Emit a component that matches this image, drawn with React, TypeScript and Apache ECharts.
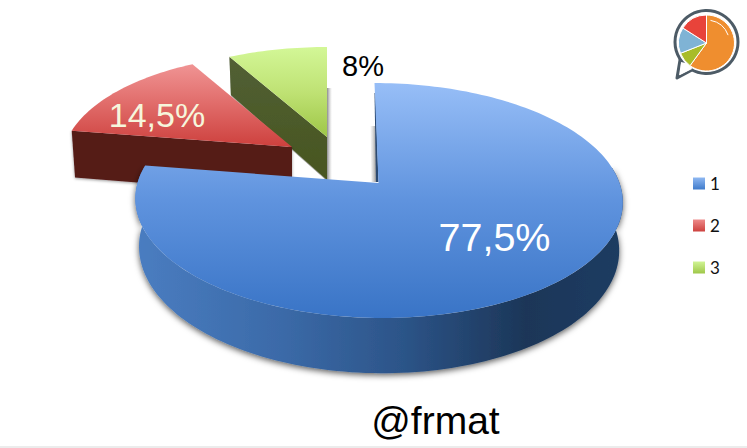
import React, { useEffect, useRef } from "react";
import * as echarts from "echarts";

const categories = ["1", "2", "3"];
const shares = [77.5, 14.5, 8];
const sliceLabels = ["77,5%", "14,5%", "8%"];
const footer = "@frmat";
const logoShares = [60, 9, 15, 16];

const K = -0.149;
const geometry = [
  { ax: 378.5, ay: 183, sx: 1, sy: 1, shear: 4, depth: 47 },
  { ax: 292, ay: 147, sx: 0.945, sy: 0.93, shear: 3, depth: 48 },
  { ax: 327, ay: 137, sx: 0.95, sy: 0.9, shear: 0, depth: 43 },
];

type G = (typeof geometry)[number];
const rad = (deg: number) => (deg * Math.PI) / 180;
function rim(g: G, deg: number, down = false): number[] {
  const u = Math.sin(rad(deg));
  const v = -Math.cos(rad(deg));
  const den = 1 + K * v;
  const narrow = down ? 0.985 : 1;
  const x = g.ax + g.sx * ((241 * u * narrow) / den + g.shear * v);
  const y = g.ay + g.sy * ((87.6 * v + 183) / den - 183);
  return [x, down ? y + g.depth / den : y];
}
function arc(g: G, from: number, to: number, down = false): number[][] {
  const pts: number[][] = [];
  const n = Math.max(2, Math.ceil(Math.abs(to - from) / 1.5));
  for (let i = 0; i <= n; i++) pts.push(rim(g, from + ((to - from) * i) / n, down));
  return pts;
}
const linear = (stops: [number, string][], horizontal = false) => ({
  type: "linear",
  x: 0,
  y: 0,
  x2: horizontal ? 1 : 0,
  y2: horizontal ? 0 : 1,
  colorStops: stops.map(([offset, color]) => ({ offset, color })),
});

const faceFills = [
  linear([[0, "#97bef7"], [0.5, "#5f93de"], [1, "#3974c6"]]),
  linear([[0, "#f09494"], [0.5, "#e06a68"], [1, "#cd403d"]]),
  linear([[0, "#d3f797"], [0.5, "#bfe274"], [1, "#9ec647"]]),
];
const swatchFills = [
  linear([[0, "#8fb8f2"], [1, "#3f7bcb"]]),
  linear([[0, "#ee8b8b"], [1, "#cd413e"]]),
  linear([[0, "#d0f495"], [1, "#9fc749"]]),
];
const blueWall = linear(
  [[0, "#4a7dc1"], [0.3, "#3b6aa8"], [0.55, "#2c5488"], [0.8, "#1c3658"], [1, "#1f3c62"]],
  true
);
const cutFills = ["#2a4e80", "#551a18", linear([[0, "#525f35"], [1, "#47561f"]])];

function sliceElement(index: number) {
  const g = geometry[index];
  const total = shares.reduce((a, b) => a + b, 0);
  const before = shares.slice(0, index).reduce((a, b) => a + b, 0);
  const start = (before / total) * 360;
  const end = ((before + shares[index]) / total) * 360;
  const children: any[] = [];
  const shadow = (pts: number[][], horizontalStops: [number, string][]) => ({
    type: "polygon",
    silent: true,
    shape: { points: pts },
    style: { fill: linear(horizontalStops, true) },
  });
  if (index === 0) {
    const [x, y] = rim(g, 0);
    children.push(
      shadow(
        [[x - 4, y + 43], [x + 1, y + 43], [x + 3, y + 99], [x - 3, y + 99]],
        [[0, "rgba(210,210,210,0.2)"], [1, "rgba(80,80,80,0.85)"]]
      )
    );
    children.push({
      type: "polygon",
      shape: { points: [[x, y + 10], [x + 1, y + 10], [x + 4, y + 99], [x + 1.5, y + 99]] },
      style: { fill: "#2c4a72" },
    });
    const top = arc(g, 82, end);
    const bottom = arc(g, end, 82, true);
    children.push({
      type: "polygon",
      shape: { points: [...top, ...bottom] },
      style: {
        fill: blueWall,
        shadowBlur: 6,
        shadowColor: "rgba(0,0,0,0.65)",
        shadowOffsetY: 2,
      },
    });
  } else {
    const a = rim(g, start);
    const b = [g.ax, g.ay];
    const c = [g.ax, g.ay + g.depth];
    const d = rim(g, start, true);
    if (index === 2) {
      const [x, y] = rim(g, 360);
      children.push(
        shadow(
          [[x, y + 41], [x + 5, y + 41], [x + 5, g.ay + g.depth], [x, g.ay + g.depth]],
          [[0, "rgba(90,90,90,0.7)"], [1, "rgba(170,170,170,0)"]]
        )
      );
    }
    children.push({
      type: "polygon",
      shape: { points: [a, b, c, d] },
      style: {
        fill: cutFills[index],
        shadowBlur: index === 1 ? 3 : 0,
        shadowColor: "rgba(0,0,0,0.4)",
        shadowOffsetY: 1,
      },
    });
  }
  children.push({
    type: "polygon",
    shape: { points: [[g.ax, g.ay], ...arc(g, start, end)] },
    style: { fill: faceFills[index] },
  });
  return { type: "group", children };
}

const logoCx = 706.5;
const logoCy = 43;
const logoColors = ["#ef8e2f", "#a8bc28", "#7fb3d5", "#e8433a"];
function logoElements() {
  const total = logoShares.reduce((a, b) => a + b, 0);
  let acc = 0;
  const sectors = logoShares.map((s, i) => {
    const a0 = (acc / total) * 2 * Math.PI - Math.PI / 2;
    acc += s;
    const a1 = (acc / total) * 2 * Math.PI - Math.PI / 2;
    return {
      type: "sector",
      shape: { cx: logoCx, cy: logoCy, r: 28, r0: 0, startAngle: a0, endAngle: a1, clockwise: true },
      style: { fill: logoColors[i], stroke: "#fff", lineWidth: 1 },
    };
  });
  return [
    {
      type: "polygon",
      shape: { points: [[680, 60], [677, 78], [692, 70]] },
      style: { fill: "#fff", stroke: "#4d5b66", lineWidth: 3, lineJoin: "round" },
    },
    {
      type: "circle",
      shape: { cx: logoCx, cy: logoCy - 1, r: 31.5 },
      style: { fill: "#fff", stroke: "#4d5b66", lineWidth: 3 },
    },
    {
      type: "polygon",
      shape: { points: [[681, 62], [680, 75], [692, 69], [690, 64]] },
      style: { fill: "#fff" },
    },
    ...sectors,
    {
      type: "arc",
      shape: { cx: logoCx, cy: logoCy, r: 23, startAngle: rad(-80), endAngle: rad(-20), clockwise: true },
      style: { stroke: "#fff", lineWidth: 1, fill: "none" },
    },
  ];
}

const textAt = (text: string, x: number, y: number, size: number, fill: string) => ({
  type: "text",
  z: 100,
  style: {
    text,
    x,
    y,
    fill,
    font: `${size}px "Liberation Sans", Arial, sans-serif`,
    align: "center",
    verticalAlign: "middle",
  },
});

export default function App() {
  const ref = useRef<HTMLDivElement>(null);
  useEffect(() => {
    document.body.style.margin = "0";
    const chart = echarts.init(ref.current!, undefined, { renderer: "svg" });
    chart.setOption({
      animation: false,
      backgroundColor: "#fff",
      legend: {
        data: categories,
        orient: "vertical",
        left: 688,
        top: 170,
        itemWidth: 12,
        itemHeight: 12,
        itemGap: 25,
        icon: "rect",
        selectedMode: false,
        textStyle: { fontFamily: "Lato", fontSize: 17, color: "#111" },
      },
      series: categories.map((name, i) => ({
        type: "custom",
        name,
        coordinateSystem: "none",
        z: 5 - i,
        silent: true,
        itemStyle: { color: swatchFills[i] },
        data: [shares[i]],
        renderItem: () => sliceElement(i),
      })),
      graphic: [
        textAt(sliceLabels[0], 494.5, 237, 39.5, "#ffffff"),
        textAt(sliceLabels[1], 157, 115, 34, "#f6f6dc"),
        textAt(sliceLabels[2], 363, 66, 29, "#000000"),
        textAt(footer, 435.5, 420, 39, "#000000"),
        ...logoElements(),
        {
          type: "rect",
          shape: { x: 0, y: 446, width: 747, height: 2 },
          style: { fill: "#ececec" },
        },
      ],
    });
    return () => chart.dispose();
  }, []);
  return <div ref={ref} style={{ width: 747, height: 448 }} />;
}
